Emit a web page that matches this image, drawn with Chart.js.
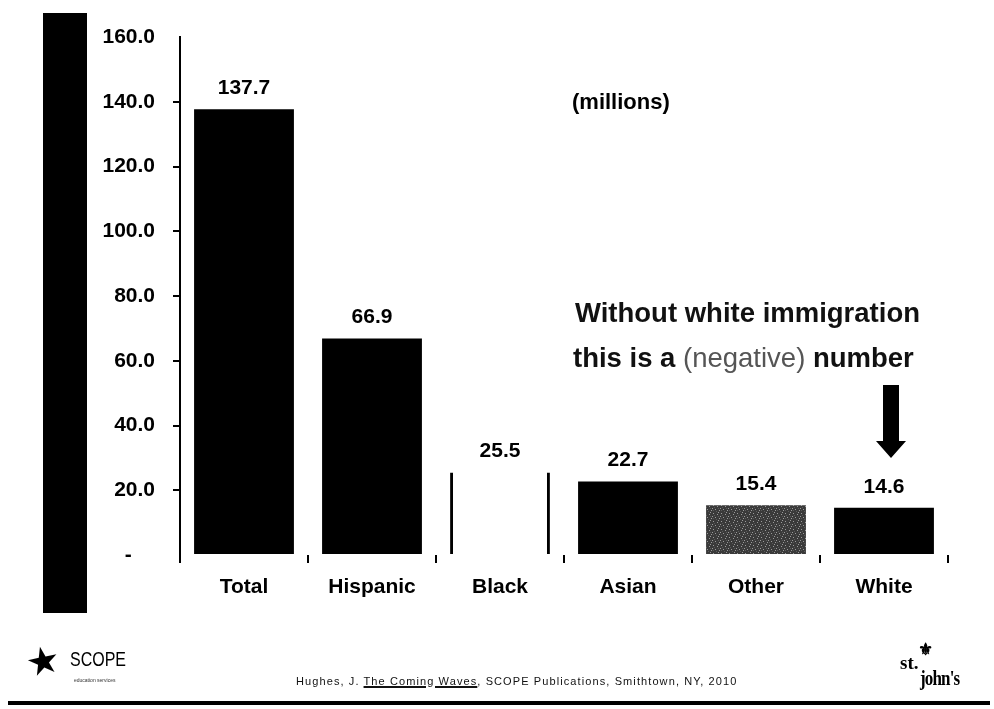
<!DOCTYPE html>
<html>
<head>
<meta charset="utf-8">
<script src="https://cdn.jsdelivr.net/npm/chart.js@4/dist/chart.umd.min.js"></script>
<style>
    html, body { margin: 0; padding: 0; background: #fff; }
    #wrap { position: relative; width: 994px; height: 709px; overflow: hidden; font-family: "Liberation Sans", Arial, sans-serif; }
    #grafico { position: absolute; left: 0; top: 0; }
    .barraIzq { position: absolute; left: 43px; top: 13px; width: 44px; height: 600px; background: #000; }
    .scope { position: absolute; left: 26px; top: 645px; color: #000; }
    .scope .estrella { position: absolute; left: 0; top: -3px; font-size: 38px; line-height: 38px; font-family: "DejaVu Sans", sans-serif; transform: rotate(-12deg); }
    .scope .nombre { position: absolute; left: 44px; top: 3px; font-size: 20px; font-family: "Liberation Sans Narrow", "Liberation Sans", sans-serif; transform: scaleX(0.8); transform-origin: left top; }
    .scope .sub { position: absolute; left: 48px; top: 32px; font-size: 5px; white-space: nowrap; color: #333; }
    .cita { position: absolute; left: 296px; top: 675px; font-size: 11px; letter-spacing: 1.1px; white-space: nowrap; color: #111; font-family: "Liberation Sans Narrow", "Liberation Sans", sans-serif; }
    .cita u { text-decoration-thickness: 1.5px; }
    .stjohns { position: absolute; left: 900px; top: 642px; width: 70px; height: 50px; font-family: "Liberation Serif", "DejaVu Serif", serif; font-weight: bold; color: #000; }
    .stjohns .st { position: absolute; left: 0; top: 10px; font-size: 19px; }
    .stjohns .emb { position: absolute; left: 18px; top: -3px; font-size: 17px; }
    .stjohns .jn { position: absolute; left: 20px; top: 25px; font-size: 20px; letter-spacing: -1px; transform: scaleX(0.85); transform-origin: left top; }
    .lineaInf { position: absolute; left: 8px; top: 701px; width: 982px; height: 4px; background: #000; }
</style>
</head>
<body>
<div id="wrap">
    <div class="barraIzq"></div>
    <canvas id="grafico" width="994" height="709"></canvas>
    <div class="scope">
        <span class="estrella">★</span>
        <span class="nombre">SCOPE</span>
        <span class="sub">education services</span>
    </div>
    <div class="cita">Hughes, J. <u>The Coming Waves</u>, SCOPE Publications, Smithtown, NY, 2010</div>
    <div class="stjohns">
        <span class="st">st.</span>
        <span class="emb">⚜</span>
        <span class="jn">john's</span>
    </div>
    <div class="lineaInf"></div>
</div>
<script>
const categorias = ['Total', 'Hispanic', 'Black', 'Asian', 'Other', 'White'];
const valores = [137.7, 66.9, 25.5, 22.7, 15.4, 14.6];
const ticksY = [0, 20, 40, 60, 80, 100, 120, 140, 160];

const FUENTE = '"Liberation Sans", Arial, sans-serif';

// trama moteada para la barra "Other"
function crearTrama() {
    const c = document.createElement('canvas');
    c.width = 8; c.height = 8;
    const g = c.getContext('2d');
    g.fillStyle = '#3a3a3a';
    g.fillRect(0, 0, 8, 8);
    g.fillStyle = '#9a9a9a';
    [[1, 1], [5, 2], [3, 5], [7, 6], [0, 4], [6, 0]].forEach(p => g.fillRect(p[0], p[1], 1, 1));
    g.fillStyle = '#5a5a5a';
    [[2, 3], [4, 7], [6, 4], [1, 6]].forEach(p => g.fillRect(p[0], p[1], 1, 1));
    return g.createPattern(c, 'repeat');
}

const fondo = categorias.map(c => c === 'Black' ? '#ffffff' : (c === 'Other' ? crearTrama() : '#000000'));
const bordes = categorias.map(c => c === 'Black' ? { left: 3, right: 3, top: 0, bottom: 0 } : 0);

const etiquetasValor = {
    id: 'etiquetasValor',
    afterDatasetsDraw(chart) {
        const ctx = chart.ctx;
        const meta = chart.getDatasetMeta(0);
        ctx.save();
        ctx.font = 'bold 21px ' + FUENTE;
        ctx.fillStyle = '#000';
        ctx.textAlign = 'center';
        ctx.textBaseline = 'middle';
        meta.data.forEach((bar, i) => {
            ctx.fillText(valores[i].toFixed(1), bar.x, bar.y - 21);
        });
        ctx.restore();
    }
};

const anotaciones = {
    id: 'anotaciones',
    afterDraw(chart) {
        const ctx = chart.ctx;
        ctx.save();
        ctx.fillStyle = '#000';
        ctx.textBaseline = 'middle';

        ctx.font = 'bold 22px ' + FUENTE;
        ctx.textAlign = 'left';
        ctx.fillText('(millions)', 572, 103);

        // texto del comentario
        ctx.font = 'bold 27.5px ' + FUENTE;
        ctx.fillStyle = '#111';
        ctx.fillText('Without white immigration', 575, 314);

        let x = 573;
        const y2 = 359;
        ctx.fillText('this is a ', x, y2);
        x += ctx.measureText('this is a ').width;
        ctx.font = '27.5px ' + FUENTE;
        ctx.fillStyle = '#555';
        ctx.fillText('(negative)', x, y2);
        x += ctx.measureText('(negative)').width;
        ctx.font = 'bold 27.5px ' + FUENTE;
        ctx.fillStyle = '#111';
        ctx.fillText(' number', x, y2);

        // flecha hacia la barra White
        const xs = chart.scales.x;
        const cx = xs.getPixelForValue(5) + 7;
        ctx.fillStyle = '#000';
        ctx.beginPath();
        ctx.moveTo(cx - 8, 385);
        ctx.lineTo(cx + 8, 385);
        ctx.lineTo(cx + 8, 441);
        ctx.lineTo(cx + 15, 441);
        ctx.lineTo(cx, 458);
        ctx.lineTo(cx - 15, 441);
        ctx.lineTo(cx - 8, 441);
        ctx.closePath();
        ctx.fill();
        ctx.restore();
    }
};

new Chart(document.getElementById('grafico'), {
    type: 'bar',
    data: {
        labels: categorias,
        datasets: [{
            data: valores,
            backgroundColor: fondo,
            borderColor: '#000',
            borderWidth: bordes,
            borderSkipped: false,
            categoryPercentage: 1,
            barPercentage: 0.78
        }]
    },
    options: {
        responsive: false,
        animation: false,
        devicePixelRatio: 1,
        layout: { padding: { left: 0, right: 46, top: 37, bottom: 0 } },
        plugins: {
            legend: { display: false },
            tooltip: { enabled: false }
        },
        scales: {
            x: {
                grid: {
                    offset: true,
                    drawOnChartArea: false,
                    drawTicks: true,
                    tickLength: 8,
                    color: '#000',
                    lineWidth: 2
                },
                border: { display: false },
                ticks: {
                    color: '#000',
                    padding: 12,
                    font: { family: FUENTE, size: 21, weight: 'bold' }
                },
                afterFit(scale) { scale.height = 154; }
            },
            y: {
                min: 0,
                max: 160,
                afterBuildTicks(scale) { scale.ticks = ticksY.map(v => ({ value: v })); },
                grid: {
                    drawOnChartArea: false,
                    drawTicks: true,
                    tickLength: 7,
                    lineWidth: 2,
                    color: ctx => (ctx.tick && (ctx.tick.value === 0 || ctx.tick.value === 160)) ? 'rgba(0,0,0,0)' : '#000'
                },
                border: { display: true, color: '#000', width: 2 },
                ticks: {
                    color: '#000',
                    padding: 18,
                    font: { family: FUENTE, size: 21, weight: 'bold' },
                    callback: v => v === 0 ? '-    ' : Number(v).toFixed(1)
                },
                afterFit(scale) { scale.width = 180; }
            }
        }
    },
    plugins: [etiquetasValor, anotaciones]
});
</script>
</body>
</html>
